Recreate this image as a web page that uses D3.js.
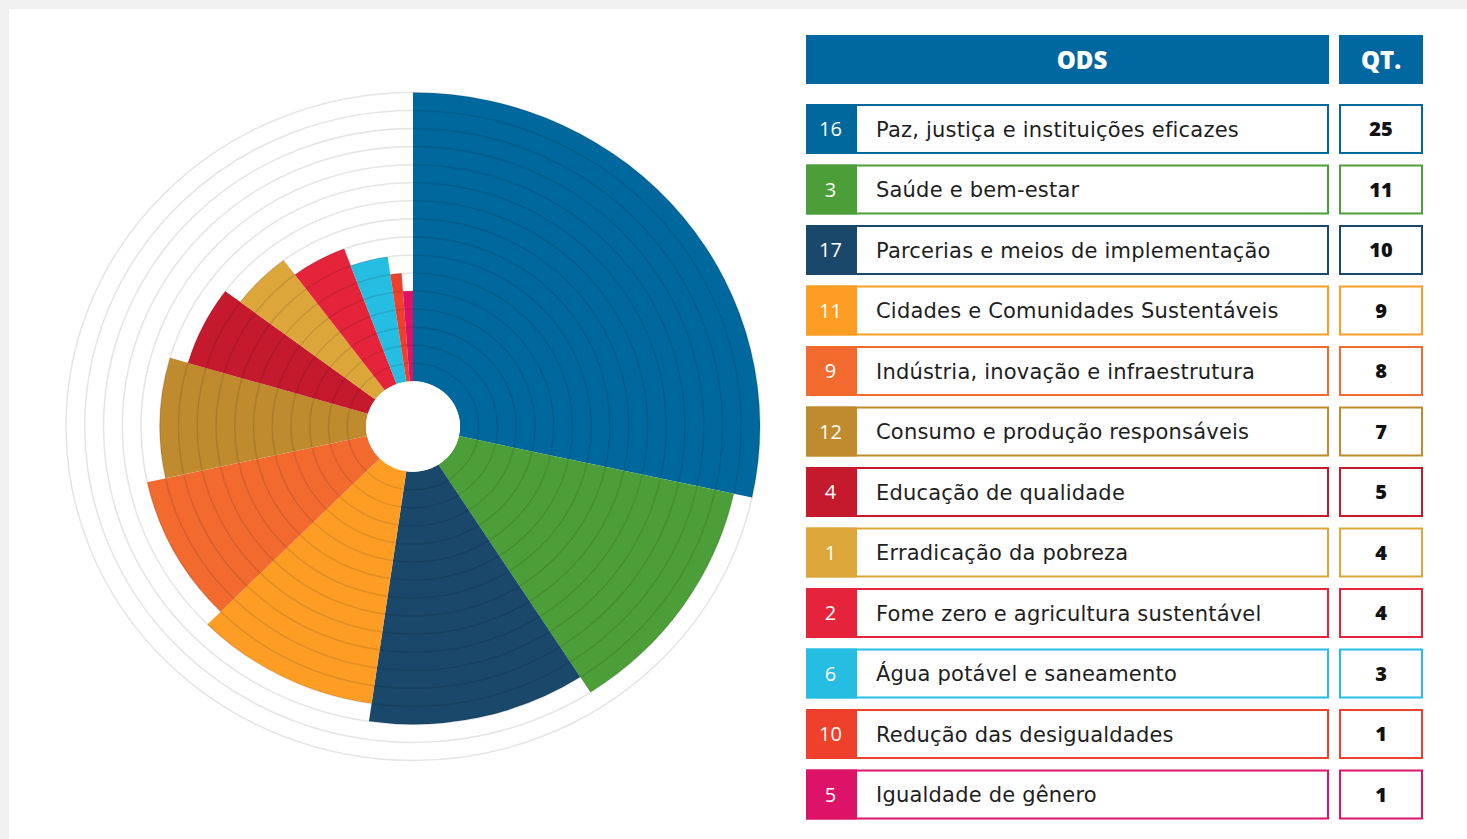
<!DOCTYPE html>
<html>
<head>
<meta charset="utf-8">
<script src="https://cdn.jsdelivr.net/npm/d3@7/dist/d3.min.js"></script>
<style>
  html, body { margin: 0; padding: 0; background: #f0f0f0; }
  svg { display: block; }
</style>
</head>
<body>
<svg id="chart" width="1467" height="839"></svg>
<script>
// ---- data ----
const odsNumbers = ["16", "3", "17", "11", "9", "12", "4", "1", "2", "6", "10", "5"];
const odsLabels = [
  "Paz, justiça e instituições eficazes",
  "Saúde e bem-estar",
  "Parcerias e meios de implementação",
  "Cidades e Comunidades Sustentáveis",
  "Indústria, inovação e infraestrutura",
  "Consumo e produção responsáveis",
  "Educação de qualidade",
  "Erradicação da pobreza",
  "Fome zero e agricultura sustentável",
  "Água potável e saneamento",
  "Redução das desigualdades",
  "Igualdade de gênero"
];
const quantities = [25, 11, 10, 9, 8, 7, 5, 4, 4, 3, 1, 1];
// outer ring reached by each slice
const ringLevels = [16, 15, 14, 13, 12, 11, 10, 9, 8, 7, 6, 5];
const odsColors = ["#00689d", "#4c9f38", "#19486a", "#fd9d24", "#f26a2e", "#bf8b2e",
                   "#c5192d", "#dda63a", "#e5243b", "#26bde2", "#ef402b", "#dd1367"];
const headerLabels = ["ODS", "QT."];
const ringCount = 16;

const rows = odsNumbers.map((n, i) => ({
  n, label: odsLabels[i], q: quantities[i], ring: ringLevels[i], color: odsColors[i]
}));

const svg = d3.select("#chart");

// card background
svg.append("rect").attr("x", 9).attr("y", 9).attr("width", 1458).attr("height", 830).attr("fill", "#ffffff");

// ---- polar chart ----
const cx = 413, cy = 426.5;
const holeR = 47, outerR = 347;
const yScaleFactor = 334 / 347;
const r = d3.scaleLinear().domain([0, ringCount]).range([holeR, outerR]);

const g = svg.append("g").attr("transform", `translate(${cx},${cy}) scale(1,${yScaleFactor})`);

const pie = d3.pie().sort(null).value(d => d.q).startAngle(0).endAngle(2 * Math.PI);
const arc = d3.arc().innerRadius(holeR).outerRadius(d => r(d.data.ring));

g.selectAll("path.slice")
  .data(pie(rows))
  .join("path")
  .attr("class", "slice")
  .attr("d", arc)
  .attr("fill", d => d.data.color);

g.selectAll("circle.ring")
  .data(d3.range(1, ringCount + 1))
  .join("circle")
  .attr("class", "ring")
  .attr("r", d => r(d))
  .attr("fill", "none")
  .attr("stroke", "#000")
  .attr("stroke-opacity", 0.1)
  .attr("stroke-width", 1.6)
  .attr("vector-effect", "non-scaling-stroke");

g.append("circle").attr("r", holeR).attr("fill", "#ffffff");

// ---- table ----
const numX0 = 806, numX1 = 857, labX1 = 1329, qtX0 = 1339, qtX1 = 1423;
const y = d3.scaleBand().domain(odsNumbers).range([104, 819.5]).paddingInner(0.174).paddingOuter(0);
const bw = y.bandwidth();
const textFont = "'DejaVu Sans', sans-serif";

// header
const header = svg.append("g");
const headerBoxes = [[numX0, labX1], [qtX0, qtX1]];
const headerTextX = [1082, 1381];
header.selectAll("rect")
  .data(headerLabels)
  .join("rect")
  .attr("x", (d, i) => headerBoxes[i][0])
  .attr("y", 35)
  .attr("width", (d, i) => headerBoxes[i][1] - headerBoxes[i][0])
  .attr("height", 49)
  .attr("fill", "#0067a0");
header.selectAll("text")
  .data(headerLabels)
  .join("text")
  .attr("x", (d, i) => headerTextX[i])
  .attr("y", 60)
  .attr("dy", "0.36em")
  .attr("text-anchor", "middle")
  .attr("fill", "#ffffff")
  .attr("font-family", "'Open Sans', sans-serif")
  .attr("font-weight", 800)
  .attr("font-size", 24)
  .text(d => d);

const rowG = svg.selectAll("g.row")
  .data(rows)
  .join("g")
  .attr("class", "row")
  .attr("transform", d => `translate(0,${y(d.n)})`);

// label cell (outlined)
rowG.append("rect")
  .attr("x", numX0 + 1).attr("y", 1)
  .attr("width", labX1 - numX0 - 2).attr("height", bw - 2)
  .attr("fill", "#fff").attr("stroke", d => d.color).attr("stroke-width", 2);
// number cell (filled)
rowG.append("rect")
  .attr("x", numX0).attr("y", 0)
  .attr("width", numX1 - numX0).attr("height", bw)
  .attr("fill", d => d.color);
rowG.append("text")
  .attr("x", (numX0 + numX1) / 2 - 1)
  .attr("y", bw / 2)
  .attr("dy", "0.36em")
  .attr("text-anchor", "middle")
  .attr("fill", "#ffffff")
  .attr("font-family", "'Open Sans', sans-serif")
  .attr("font-size", 20)
  .text(d => d.n);
rowG.append("text")
  .attr("x", 876)
  .attr("y", bw / 2)
  .attr("dy", "0.36em")
  .attr("fill", "#1e1e1e")
  .attr("font-family", textFont)
  .attr("font-size", 21)
  .attr("letter-spacing", 0.2)
  .text(d => d.label);
// quantity cell
rowG.append("rect")
  .attr("x", qtX0 + 1).attr("y", 1)
  .attr("width", qtX1 - qtX0 - 2).attr("height", bw - 2)
  .attr("fill", "#fff").attr("stroke", d => d.color).attr("stroke-width", 2);
rowG.append("text")
  .attr("x", (qtX0 + qtX1) / 2)
  .attr("y", bw / 2)
  .attr("dy", "0.36em")
  .attr("text-anchor", "middle")
  .attr("fill", "#111")
  .attr("font-family", "'Open Sans', sans-serif")
  .attr("font-weight", 800)
  .attr("font-size", 20)
  .text(d => d.q);
</script>
</body>
</html>
